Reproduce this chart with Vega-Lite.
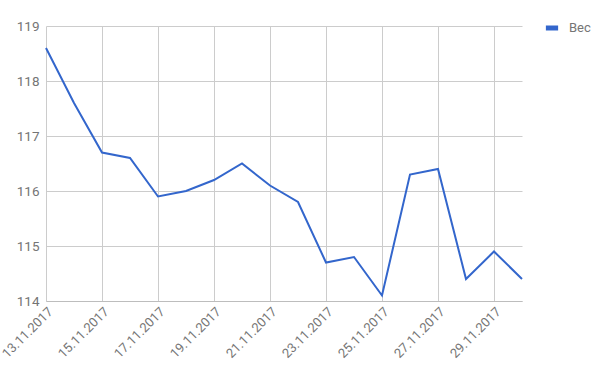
{
  "$schema": "https://vega.github.io/schema/vega-lite/v6.json",
  "autosize": {"type": "none"},
  "width": 476,
  "height": 275,
  "padding": {"left": 46, "top": 26, "right": 83, "bottom": 72},
  "background": "white",
  "data": {"values": [
    {"date": "13.11.2017", "weight": 118.6, "series": "Вес"},
    {"date": "14.11.2017", "weight": 117.6, "series": "Вес"},
    {"date": "15.11.2017", "weight": 116.7, "series": "Вес"},
    {"date": "16.11.2017", "weight": 116.6, "series": "Вес"},
    {"date": "17.11.2017", "weight": 115.9, "series": "Вес"},
    {"date": "18.11.2017", "weight": 116.0, "series": "Вес"},
    {"date": "19.11.2017", "weight": 116.2, "series": "Вес"},
    {"date": "20.11.2017", "weight": 116.5, "series": "Вес"},
    {"date": "21.11.2017", "weight": 116.1, "series": "Вес"},
    {"date": "22.11.2017", "weight": 115.8, "series": "Вес"},
    {"date": "23.11.2017", "weight": 114.7, "series": "Вес"},
    {"date": "24.11.2017", "weight": 114.8, "series": "Вес"},
    {"date": "25.11.2017", "weight": 114.1, "series": "Вес"},
    {"date": "26.11.2017", "weight": 116.3, "series": "Вес"},
    {"date": "27.11.2017", "weight": 116.4, "series": "Вес"},
    {"date": "28.11.2017", "weight": 114.4, "series": "Вес"},
    {"date": "29.11.2017", "weight": 114.9, "series": "Вес"},
    {"date": "30.11.2017", "weight": 114.4, "series": "Вес"}
  ]},
  "mark": {"type": "line", "strokeWidth": 2},
  "encoding": {
    "x": {
      "field": "date", "type": "ordinal", "sort": null,
      "scale": {"type": "point", "padding": 0},
      "axis": {
        "title": null,
        "values": ["13.11.2017", "15.11.2017", "17.11.2017", "19.11.2017", "21.11.2017", "23.11.2017", "25.11.2017", "27.11.2017", "29.11.2017"],
        "labelAngle": -45, "labelAlign": "right", "labelBaseline": "top",
        "labelPadding": 4, "ticks": false, "domain": true, "domainColor": "#bdbdbd",
        "grid": true, "gridColor": "#cccccc", "labelFontSize": 13
      }
    },
    "y": {
      "field": "weight", "type": "quantitative",
      "scale": {"domain": [114, 119], "nice": false, "zero": false},
      "axis": {
        "title": null, "values": [114, 115, 116, 117, 118, 119],
        "ticks": false, "domain": false, "labelPadding": 7,
        "grid": true, "gridColor": "#cccccc", "labelFontSize": 13.5
      }
    },
    "color": {
      "field": "series", "type": "nominal",
      "scale": {"range": ["#3366cc"]},
      "legend": {
        "title": null, "orient": "none", "legendX": 497, "legendY": -7,
        "symbolType": "stroke", "symbolStrokeWidth": 5, "symbolSize": 150,
        "labelFontSize": 13, "labelColor": "#757575", "labelOffset": 8
      }
    }
  },
  "config": {
    "font": "Roboto",
    "view": {"stroke": null},
    "axis": {"labelFont": "Roboto", "labelColor": "#757575"},
    "legend": {"labelFont": "Roboto"}
  }
}
